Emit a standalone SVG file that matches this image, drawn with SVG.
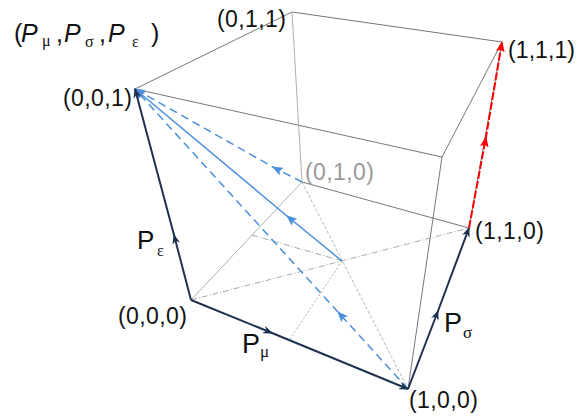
<svg xmlns="http://www.w3.org/2000/svg" width="584" height="417" viewBox="0 0 584 417">
<style>
.edge{fill:none;stroke:#777;stroke-width:1}
.edgeL{fill:none;stroke:#b0b0b0;stroke-width:1}
.dd{fill:none;stroke:#aaa;stroke-width:1;stroke-dasharray:6 2 1 2}
.dot{fill:none;stroke:#aaa;stroke-width:1;stroke-dasharray:2 2}
.dsh{fill:none;stroke:#b5b5b5;stroke-width:1;stroke-dasharray:3 2}
.navy{fill:none;stroke:#1d3150;stroke-width:2;marker-mid:url(#an);marker-end:url(#an)}
.blue{fill:none;stroke:#4a8fdc;stroke-width:1.5;marker-mid:url(#ab);marker-end:url(#ab)}
.bdash{stroke-dasharray:8 5}
.red{fill:none;stroke:#ff0000;stroke-width:2;stroke-dasharray:8 2;marker-mid:url(#ar);marker-end:url(#ar)}
.lbl{font-family:"Liberation Sans",Arial,sans-serif;font-size:23px;fill:#111}
.big{font-family:"Liberation Sans",Arial,sans-serif;fill:#111}
.gr{font-family:"Liberation Serif","Times New Roman",serif;fill:#111}
</style>
<defs>
<marker id="an" viewBox="0 0 10 8" refX="9" refY="4" markerWidth="10" markerHeight="8" markerUnits="userSpaceOnUse" orient="auto"><path d="M0,0 L10,4 L0,8 L3,4 z" fill="#1d3150"/></marker>
<marker id="ab" viewBox="0 0 10 8" refX="9" refY="4" markerWidth="11" markerHeight="9" markerUnits="userSpaceOnUse" orient="auto"><path d="M0,0 L10,4 L0,8 L2,4 z" fill="#4a8fdc"/></marker>
<marker id="ar" viewBox="0 0 10 8" refX="9" refY="4" markerWidth="11" markerHeight="9" markerUnits="userSpaceOnUse" orient="auto"><path d="M0,0 L10,4 L0,8 L2,4 z" fill="#ff0000"/></marker>
</defs>
<g id="connectors">
<line class="edge" x1="135" y1="89" x2="292" y2="12"/>
<line class="edge" x1="135" y1="89" x2="442" y2="157"/>
<line class="edge" x1="292" y1="12" x2="502" y2="42"/>
<line class="edge" x1="442" y1="157" x2="502" y2="42"/>
<line class="edge" x1="442" y1="157" x2="408" y2="389"/>
<line class="edge" x1="302" y1="182" x2="469" y2="228"/>
<line class="edge" x1="469" y1="228" x2="502" y2="42"/>
<line class="edgeL" x1="292" y1="12" x2="302" y2="182"/>
<line class="edgeL" x1="191" y1="300" x2="302" y2="182"/>
<line class="dd" x1="191" y1="300" x2="469" y2="228"/>
<line class="dd" x1="252" y1="235" x2="342" y2="261"/>
<line class="dot" x1="342" y1="261" x2="290" y2="339"/>
<line class="dsh" x1="302" y1="182" x2="408" y2="389"/>
<path class="blue" d="M342,261 L287,216 L135,89"/>
<path class="blue bdash" d="M302,182 L273,167 L135,89"/>
<path class="blue bdash" d="M408,389 L338,312 L135,89"/>
<path class="navy" d="M191,300 L174,235 L135,89"/>
<path class="navy" d="M191,300 L272,333 L408,389"/>
<path class="navy" d="M408,389 L438,311 L469,228"/>
<path class="red" d="M469,228 L486,137 L502,42"/>
</g>
<g id="title">
<text class="big" font-size="25" y="42"><tspan x="14">(</tspan><tspan x="21" font-style="italic">P</tspan></text>
<text class="gr" font-size="16" x="42" y="46">μ</text>
<text class="big" font-size="25" y="42"><tspan x="56">,</tspan><tspan x="64" font-style="italic">P</tspan></text>
<text class="gr" font-size="16" x="85" y="47">σ</text>
<text class="big" font-size="25" y="42"><tspan x="99">,</tspan><tspan x="108" font-style="italic">P</tspan></text>
<text class="gr" font-size="16" x="132" y="47">ε</text>
<text class="big" font-size="25" x="151" y="42">)</text>
</g>
<g id="n000"><text class="lbl" x="118" y="324" textLength="69" lengthAdjust="spacing">(0,0,0)</text></g>
<g id="n100"><text class="lbl" x="409" y="408" textLength="69" lengthAdjust="spacing">(1,0,0)</text></g>
<g id="n110"><text class="lbl" x="475" y="239" textLength="69" lengthAdjust="spacing">(1,1,0)</text></g>
<g id="n010"><text class="lbl" x="305" y="180" textLength="69" lengthAdjust="spacing" style="fill:#999">(0,1,0)</text></g>
<g id="n001"><text class="lbl" x="63" y="106" textLength="69" lengthAdjust="spacing">(0,0,1)</text></g>
<g id="n011"><text class="lbl" x="217" y="27" textLength="69" lengthAdjust="spacing">(0,1,1)</text></g>
<g id="n111"><text class="lbl" x="508" y="58" textLength="67" lengthAdjust="spacing">(1,1,1)</text></g>
<g id="lblPe"><text class="big" font-size="26" x="137" y="249">P</text><text class="gr" font-size="16" x="157" y="256">ε</text></g>
<g id="lblPm"><text class="big" font-size="27" x="242" y="353">P</text><text class="gr" font-size="17" x="260" y="357">μ</text></g>
<g id="lblPs"><text class="big" font-size="27" x="444" y="332">P</text><text class="gr" font-size="17" x="463" y="338">σ</text></g>
</svg>
